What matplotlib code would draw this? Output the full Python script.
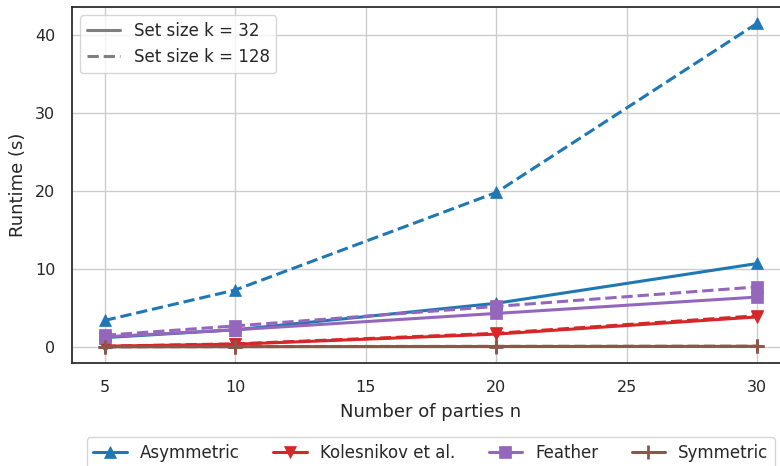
import matplotlib
matplotlib.use("Agg")

import matplotlib.pyplot as plt
import seaborn as sns
from matplotlib.lines import Line2D

parties = [5, 10, 20, 30]

asym_32 = [1.2, 2.2, 5.6, 10.7]
asym_128 = [3.4, 7.3, 19.8, 41.5]
kol_32 = [0.1, 0.35, 1.65, 3.85]
kol_128 = [0.1, 0.4, 1.75, 4.0]
feather_32 = [1.3, 2.2, 4.3, 6.4]
feather_128 = [1.5, 2.7, 5.2, 7.7]
sym_32 = [0.02, 0.04, 0.06, 0.08]
sym_128 = [0.03, 0.05, 0.08, 0.1]

protocols = ["Asymmetric", "Kolesnikov et al.", "Feather", "Symmetric"]
colors = ["#1f77b4", "#d62728", "#9467bd", "#8c564b"]
markers = ["^", "v", "s", "+"]
series = [(asym_32, asym_128), (kol_32, kol_128),
          (feather_32, feather_128), (sym_32, sym_128)]

sns.set_theme(style="whitegrid", context="notebook")
plt.rcParams["font.family"] = ["DejaVu Sans"]
plt.rcParams["axes.edgecolor"] = "0.15"
plt.rcParams["axes.linewidth"] = 1.25


def style(c, m):
    return dict(color=c, marker=m, ms=9 if m != "+" else 10,
                mew=2 if m == "+" else 0.5, lw=2.2)


fig = plt.figure(figsize=(7.8, 4.66), dpi=100)
ax = fig.add_axes([72 / 780, 103 / 466, 718 / 780, 356 / 466])

for c, m, (s32, s128) in zip(colors, markers, series):
    ax.plot(parties, s32, ls="-", **style(c, m))
    ax.plot(parties, s128, ls="--", **style(c, m))

ax.set_xlabel("Number of parties n", fontsize=13, labelpad=6)
ax.set_ylabel("Runtime (s)", fontsize=13, labelpad=6)
ax.tick_params(labelsize=11.5, pad=6)
ax.set_xticks([5, 10, 15, 20, 25, 30])
ax.set_yticks([0, 10, 20, 30, 40])

size_handles = [Line2D([], [], color="0.5", lw=2.2, ls="-"),
                Line2D([], [], color="0.5", lw=2.2, ls="--")]
leg1 = ax.legend(size_handles, ["Set size k = 32", "Set size k = 128"],
                 loc="upper left", fontsize=12)
ax.add_artist(leg1)

proto_handles = [Line2D([], [], **style(c, m)) for c, m in zip(colors, markers)]
ax.legend(proto_handles, protocols, loc="upper center",
          bbox_to_anchor=(0.5, -0.185), ncol=4, fontsize=12,
          columnspacing=2.0)

fig.savefig("out.png", dpi=100)
